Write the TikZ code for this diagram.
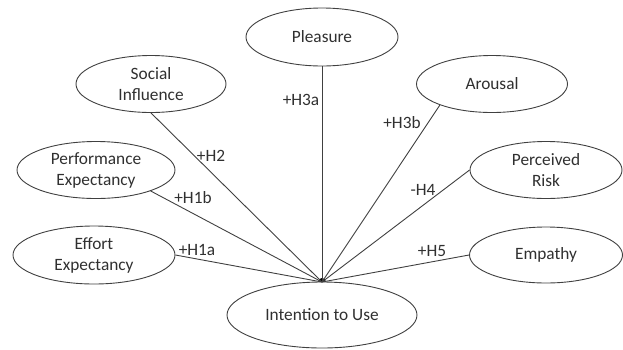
\documentclass[tikz,border=0pt]{standalone}
\usepackage{fontspec}
\setmainfont{Carlito}
\usetikzlibrary{shapes.geometric}
\definecolor{txt}{HTML}{303030}
\definecolor{ln}{HTML}{404040}
\tikzset{
  cons/.style={ellipse, draw=ln, line width=0.9pt, fill=white, inner sep=0pt, align=center,
    text=txt, font=\fontsize{17.3}{21}\selectfont},
  hyp/.style={text=txt, font=\fontsize{17.3}{21}\selectfont, inner sep=0pt},
  link/.style={draw=ln, line width=0.9pt}
}
\begin{document}
\begin{tikzpicture}[x=1pt,y=-1pt]
\useasboundingbox (0,0) rectangle (623,349);
\coordinate (hub) at (322,282);
\fill[black] (hub) circle (4pt);
\node[cons, minimum width=152pt, minimum height=58pt] (pl) at (322,37) {Pleasure};
\node[cons, minimum width=150pt, minimum height=57pt] (si) at (151,84) {Social\\Influence};
\node[cons, minimum width=151pt, minimum height=57pt] (ar) at (492,84) {Arousal};
\node[cons, minimum width=158pt, minimum height=57pt] (pe) at (96,170) {Performance\\Expectancy};
\node[cons, minimum width=152pt, minimum height=57pt] (pr) at (546,170) {Perceived\\Risk};
\node[cons, minimum width=162pt, minimum height=58pt] (ee) at (94,255) {Effort\\Expectancy};
\node[cons, minimum width=153pt, minimum height=56pt] (em) at (546,255) {Empathy};
\node[cons, minimum width=190pt, minimum height=66pt] (iu) at (322,315) {Intention to Use};
\draw[link] (pl.south) -- (hub);
\draw[link] (si.south) -- (hub);
\draw[link] (ar.202) -- (hub);
\draw[link] (pe.-21) -- (hub);
\draw[link] (pr.west) -- (hub);
\draw[link] (ee.east) -- (hub);
\draw[link] (em.west) -- (hub);
\node[hyp] (h3a) at (301,100) {+H3a};
\node[hyp] (h2) at (211,156) {+H2};
\node[hyp] (h1b) at (193,198) {+H1b};
\node[hyp] (h1a) at (197,250) {+H1a};
\node[hyp] (h3b) at (402,123) {+H3b};
\node[hyp] (h4) at (423,190) {-H4};
\node[hyp] (h5) at (432,251) {+H5};
\end{tikzpicture}
\end{document}
